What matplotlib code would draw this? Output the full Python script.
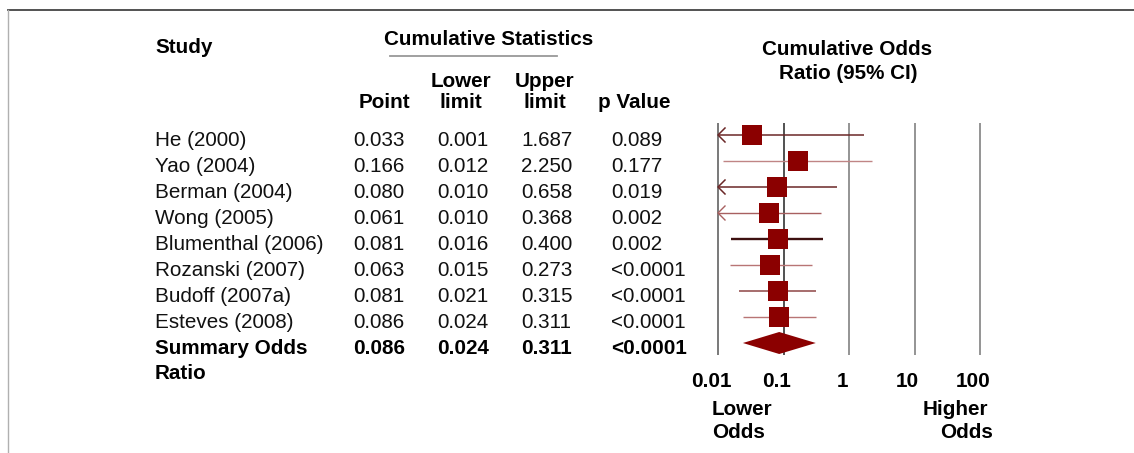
import numpy as np
import matplotlib
matplotlib.use("Agg")
import matplotlib.pyplot as plt
from matplotlib.lines import Line2D
from matplotlib.transforms import offset_copy

plt.rcParams['font.family'] = ['Liberation Sans', 'DejaVu Sans']

# ---------------- data ----------------
studies = ["He (2000)", "Yao (2004)", "Berman (2004)", "Wong (2005)",
           "Blumenthal (2006)", "Rozanski (2007)", "Budoff (2007a)", "Esteves (2008)"]
point = [0.033, 0.166, 0.080, 0.061, 0.081, 0.063, 0.081, 0.086]
lower = [0.001, 0.012, 0.010, 0.010, 0.016, 0.015, 0.021, 0.024]
upper = [1.687, 2.250, 0.658, 0.368, 0.400, 0.273, 0.315, 0.311]
pvals = ["0.089", "0.177", "0.019", "0.002", "0.002", "<0.0001", "<0.0001", "<0.0001"]

summary_label = ["Summary Odds", "Ratio"]
summary_point = 0.086
summary_lower = 0.024
summary_upper = 0.311
summary_p = "<0.0001"

tick_values = [0.01, 0.1, 1, 10, 100]
tick_labels = ["0.01", "0.1", "1", "10", "100"]

# ---------------- styles ----------------
W, H = 1134, 453
FS = 14.9
BOX = '#8b0000'
ci_colors = ['#6b2727', '#c08585', '#6b2727', '#a86060', '#3d1010', '#b87575', '#8e4545', '#b87575']
ci_widths = [1.1, 1.0, 1.1, 1.0, 1.7, 1.0, 1.1, 1.0]
ref_colors = ['#555555', '#222222', '#777777', '#777777', '#777777']

ROW0, STEP = 135.0, 26.0   # pixel position of first row and row step
DEC = 65.5                 # pixels per decade
X001 = 718.0               # pixel of 0.01

fig = plt.figure(figsize=(W / 100, H / 100), dpi=100)

# background axes in pixel coordinates for the table text and frame
bg = fig.add_axes([0, 0, 1, 1])
bg.set_xlim(0, W)
bg.set_ylim(H, 0)
bg.axis('off')

# frame
bg.add_line(Line2D([8, W], [10, 10], color='#444444', lw=1.3))
bg.add_line(Line2D([8, 8], [10, H], color='#b0b0b0', lw=1.0))

def row_px(i):
    return ROW0 + STEP * i

TXT_OFF = 10.8
col_x = {'study': 155, 'point': 353, 'lower': 437, 'upper': 521.5, 'p': 611}
TC = '#111111'

for i, name in enumerate(studies):
    yb = row_px(i) + TXT_OFF
    bg.text(col_x['study'], yb, name, fontsize=FS, va='baseline', ha='left', color=TC)
    bg.text(col_x['point'], yb, f"{point[i]:.3f}", fontsize=FS, va='baseline', ha='left', color=TC)
    bg.text(col_x['lower'], yb, f"{lower[i]:.3f}", fontsize=FS, va='baseline', ha='left', color=TC)
    bg.text(col_x['upper'], yb, f"{upper[i]:.3f}", fontsize=FS, va='baseline', ha='left', color=TC)
    bg.text(col_x['p'], yb, pvals[i], fontsize=FS, va='baseline', ha='left', color=TC)

ns = len(studies)
yb = row_px(ns) + TXT_OFF
bg.text(col_x['study'], yb, summary_label[0], fontsize=FS, fontweight='bold', va='baseline')
bg.text(col_x['study'], yb + 25, summary_label[1], fontsize=FS, fontweight='bold', va='baseline')
bg.text(col_x['point'], yb, f"{summary_point:.3f}", fontsize=FS, fontweight='bold', va='baseline')
bg.text(col_x['lower'], yb, f"{summary_lower:.3f}", fontsize=FS, fontweight='bold', va='baseline')
bg.text(col_x['upper'], yb, f"{summary_upper:.3f}", fontsize=FS, fontweight='bold', va='baseline')
bg.text(col_x['p'], yb, summary_p, fontsize=FS, fontweight='bold', va='baseline')

# headers
bg.text(155, 53, "Study", fontsize=FS, fontweight='bold', va='baseline')
bg.text(489, 45, "Cumulative Statistics", fontsize=FS, fontweight='bold', va='baseline', ha='center')
bg.add_line(Line2D([390, 557], [56, 56], color='#999999', lw=1.3))
bg.text(384, 108, "Point", fontsize=FS, fontweight='bold', va='baseline', ha='center')
bg.text(461, 87, "Lower", fontsize=FS, fontweight='bold', va='baseline', ha='center')
bg.text(461, 108, "limit", fontsize=FS, fontweight='bold', va='baseline', ha='center')
bg.text(545, 87, "Upper", fontsize=FS, fontweight='bold', va='baseline', ha='center')
bg.text(545, 108, "limit", fontsize=FS, fontweight='bold', va='baseline', ha='center')
bg.text(634, 108, "p Value", fontsize=FS, fontweight='bold', va='baseline', ha='center')
bg.text(847, 55, "Cumulative Odds", fontsize=FS, fontweight='bold', va='baseline', ha='center')
bg.text(848, 79, "Ratio (95% CI)", fontsize=FS, fontweight='bold', va='baseline', ha='center')

# ---------------- forest axes (log scale) ----------------
AX_L, AX_R, AX_T, AX_B = 700, 1000, 100, 400
ax = fig.add_axes([AX_L / W, 1 - AX_B / H, (AX_R - AX_L) / W, (AX_B - AX_T) / H])
ax.set_xscale('log')
ax.set_xlim(10 ** (-2 + (AX_L - X001) / DEC), 10 ** (-2 + (AX_R - X001) / DEC))
ax.set_ylim((AX_B - ROW0) / STEP, (AX_T - ROW0) / STEP)
ax.axis('off')
ax.patch.set_alpha(0)

rows = np.arange(ns)
ytop = (123 - ROW0) / STEP
ybot = (355 - ROW0) / STEP
for v, c in zip(tick_values, ref_colors):
    ax.vlines(v, ytop, ybot, color=c, lw=1.1, zorder=1)

xmin = tick_values[0]
arrow_dx = 10 ** (np.log10(xmin) + 7 / DEC)
arrow_dy = 7 / STEP
for i in rows:
    lo = lower[i]
    start = max(lo, xmin)
    ax.hlines(i, start, upper[i], color=ci_colors[i], lw=ci_widths[i], zorder=2)
    if lo <= xmin:
        ax.plot([arrow_dx, xmin, arrow_dx], [i - arrow_dy, i, i + arrow_dy],
                color=ci_colors[i], lw=ci_widths[i], zorder=2)
ax.plot(point, rows, marker='s', ms=14.8, mew=0, color=BOX, ls='none', zorder=3)

# summary diamond
dh = 11 / STEP
ax.fill([summary_lower, summary_point, summary_upper, summary_point],
        [ns, ns - dh, ns, ns + dh], color=BOX, lw=0, zorder=3)

# tick labels
lab_tr = offset_copy(ax.transData, fig=fig, x=-7, y=0, units='dots')
ylab = (387 - ROW0) / STEP
for v, t in zip(tick_values, tick_labels):
    ax.text(v, ylab, t, transform=lab_tr, fontsize=FS, fontweight='bold',
            ha='center', va='baseline')

bg.text(712, 415, "Lower", fontsize=FS, fontweight='bold', va='baseline', ha='left')
bg.text(712, 438, "Odds", fontsize=FS, fontweight='bold', va='baseline', ha='left')
bg.text(988, 415, "Higher", fontsize=FS, fontweight='bold', va='baseline', ha='right')
bg.text(993, 438, "Odds", fontsize=FS, fontweight='bold', va='baseline', ha='right')

fig.savefig("out.png", dpi=100)
